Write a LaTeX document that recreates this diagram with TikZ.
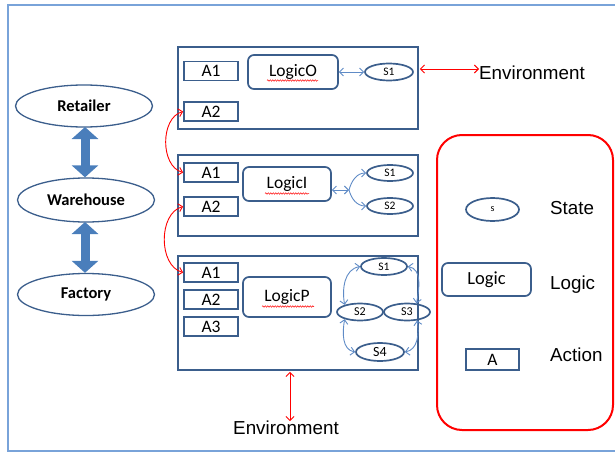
\documentclass[tikz,border=0pt]{standalone}
\usepackage{fontspec}
\setmainfont{Liberation Sans}
\newfontfamily\carl{Carlito}
\usetikzlibrary{shapes.geometric,arrows.meta,decorations.pathmorphing}
\definecolor{boxblue}{HTML}{3B5E8C}
\definecolor{fillblue}{HTML}{4A7EBB}
\definecolor{arrblue}{HTML}{5F8BC6}
\definecolor{frameblue}{HTML}{79A3D9}
\begin{document}
\begin{tikzpicture}[x=1pt,y=1pt,
 panel/.style={draw=boxblue, line width=1.9pt, inner sep=0},
 abox/.style={draw=boxblue, line width=1.7pt, minimum width=54pt, minimum height=19pt, inner sep=0, font=\carl\fontsize{17.5}{17.5}\selectfont},
 lbox/.style={draw=boxblue, line width=1.7pt, rounded corners=6pt, inner sep=0, font=\carl\fontsize{17.5}{17.5}\selectfont},
 sell/.style={ellipse, draw=boxblue, line width=1.7pt, inner sep=0, minimum width=46pt, minimum height=16pt, font=\carl\fontsize{11.5}{11.5}\selectfont},
 bigell/.style={ellipse, draw=boxblue, line width=1.3pt, inner sep=0, minimum width=137pt, minimum height=42pt, font=\carl\bfseries\fontsize{16.5}{16.5}\selectfont},
 bluearr/.style={draw=arrblue, line width=0.9pt, {Straight Barb[length=4pt,width=8pt]}-{Straight Barb[length=4pt,width=8pt]}},
 bluesingle/.style={draw=arrblue, line width=0.9pt, -{Straight Barb[length=4pt,width=8pt]}},
 redarr/.style={draw=red, line width=0.9pt, {Straight Barb[length=4pt,width=8pt]}-{Straight Barb[length=4pt,width=8pt]}},
 blockarr/.style={draw=fillblue, line width=9pt, {Triangle[width=26pt,length=12pt]}-{Triangle[width=26pt,length=12pt]}},
 lab/.style={font=\fontsize{18.8}{18.8}\selectfont, inner sep=0, text height=13.5pt, text depth=0pt},
 squig/.style={draw=red, line width=0.5pt, decorate, decoration={snake, segment length=2.5pt, amplitude=0.7pt}}
]
\useasboundingbox (0,0) rectangle (615,-452);
\draw[frameblue, line width=2pt] (615,-5) -- (8,-5) -- (8,-451) -- (615,-451);

% panels
\node[panel, minimum width=240pt, minimum height=82pt] (PO) at (298,-88) {};
\node[panel, minimum width=240pt, minimum height=81pt] (PI) at (298,-195.5) {};
\node[panel, minimum width=240pt, minimum height=114pt] (PP) at (298,-313) {};

% actions
\node[abox] (OA1) at (211,-71) {A1};
\node[abox] (OA2) at (211,-111.5) {A2};
\node[abox] (IA1) at (211,-172.5) {A1};
\node[abox] (IA2) at (211,-206.5) {A2};
\node[abox] (PA1) at (211,-272.5) {A1};
\node[abox] (PA2) at (211,-299.5) {A2};
\node[abox] (PA3) at (211,-326.5) {A3};

% logic
\node[lbox, minimum width=90pt, minimum height=34pt] (LO) at (293,-72) {LogicO};
\node[lbox, minimum width=88pt, minimum height=34pt] (LI) at (287,-184) {LogicI};
\node[lbox, minimum width=88pt, minimum height=40pt] (LP) at (287,-297) {LogicP};
\draw[squig] ([xshift=-26pt,yshift=-8.5pt]LO.center) -- ++(51pt,0);
\draw[squig] ([xshift=-22pt,yshift=-9.5pt]LI.center) -- ++(44pt,0);
\draw[squig] ([xshift=-25pt,yshift=-9.5pt]LP.center) -- ++(52pt,0);

% states
\node[sell, minimum width=48pt, minimum height=17pt] (OS1) at (389,-72) {S1};
\node[sell] (IS1) at (390,-173) {S1};
\node[sell] (IS2) at (390,-206) {S2};
\node[sell, minimum height=17pt] (PS1) at (384,-266.5) {S1};
\node[sell, minimum height=17pt, font=\carl\fontsize{12}{12}\selectfont] (PS2) at (360,-312) {S2};
\node[sell, minimum height=17pt, font=\carl\fontsize{12}{12}\selectfont] (PS3) at (407,-312) {S3};
\node[sell, minimum width=48pt, minimum height=18pt, font=\carl\fontsize{14}{14}\selectfont] (PS4) at (380,-352) {S4};

% blue arrows
\draw[bluearr] (LO.east) -- (OS1.west);
\coordinate (J) at (349,-190);
\draw[bluearr] ([yshift=-6pt]LI.east) -- (J);
\draw[bluesingle] (J) to[out=75,in=180] (IS1.west);
\draw[bluesingle] (J) to[out=-75,in=180] (IS2.west);
\draw[bluearr] (PS1.west) to[out=190,in=100] (PS2.155);
\draw[bluearr] (PS2.205) to[out=-100,in=170] (PS4.west);
\draw[bluearr] (PS1.east) to[out=-10,in=80] (PS3.42);
\draw[bluearr] (PS3.-40) to[out=-80,in=10] (PS4.east);

% red arrows between actions
\draw[redarr] (OA2.west) to[out=195,in=165] (IA1.west);
\draw[redarr] (IA2.west) to[out=195,in=165] (PA1.west);

% environment
\node[lab, anchor=west] (EnvT) at (479,-73) {Environment};
\draw[redarr] ([yshift=4pt,xshift=1pt]EnvT.west -| PO.east) -- ([yshift=4pt]EnvT.west);
\node[lab] (EnvB) at (286,-428) {Environment};
\draw[redarr] ([xshift=4pt]EnvB.north) -- ([xshift=4pt,yshift=-1pt]EnvB.north |- PP.south);

% supply chain
\node[bigell] (Ret) at (84,-106) {Retailer};
\node[bigell, minimum height=44pt] (War) at (86,-200) {Warehouse};
\node[bigell] (Fac) at (86,-294.5) {Factory};
\draw[blockarr] (85,-127) coordinate (b1) -- (b1 |- War.north);
\draw[blockarr] (85,-222) coordinate (b2) -- (b2 |- Fac.north);

% legend
\node[draw=red, line width=2pt, rounded corners=25pt, minimum width=176pt, minimum height=295pt, inner sep=0] (Leg) at (525,-282.5) {};
\node[sell, minimum width=53pt, minimum height=23pt, font=\carl\fontsize{10}{10}\selectfont] (LS) at (492.5,-209.5) {s};
\node[lab, anchor=west] (LSt) at (550,-208) {State};
\node[lbox, minimum width=89pt, minimum height=33pt, font=\carl\fontsize{18.5}{18.5}\selectfont] (LL) at (486.5,-279.5) {Logic};
\node[lab, anchor=west] (LLt) at (550,-283) {Logic};
\node[abox, minimum width=53pt, minimum height=21pt] (LA) at (492.5,-359.5) {A};
\node[lab, anchor=west] (LAt) at (550,-355) {Action};
\end{tikzpicture}
\end{document}
